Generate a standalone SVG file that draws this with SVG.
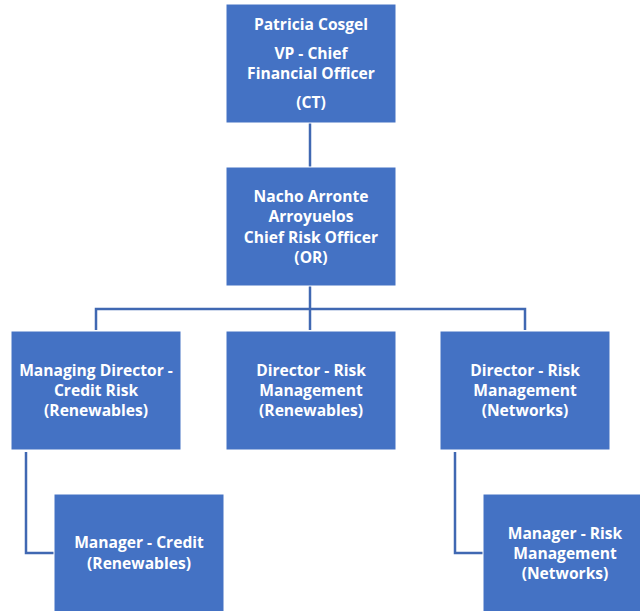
<svg xmlns="http://www.w3.org/2000/svg" width="640" height="611" viewBox="0 0 640 611">
  <style>
    .box { fill: #4472C4; stroke: #ffffff; stroke-width: 1; }
    .lbl { fill: #ffffff; font-family: "Open Sans", "Liberation Sans", sans-serif; font-weight: bold; font-size: 15.6px; text-anchor: middle; }
    .link { fill: none; stroke: #4068B2; stroke-width: 2.5; }
  </style>
  <rect width="640" height="611" fill="#ffffff"/>

  <!-- reporting lines -->
  <g id="connectors">
    <path class="link" d="M310,123 V167"/>
    <path class="link" d="M310,286 V330"/>
    <path class="link" d="M96,330 V309 H525 V330"/>
    <path class="link" d="M26,452 V553 H54"/>
    <path class="link" d="M455,452 V553 H483"/>
  </g>

  <g id="cfo">
    <rect class="box" x="226" y="4" width="170" height="119"/>
    <text class="lbl" x="311" y="30">Patricia Cosgel</text>
    <text class="lbl" x="311" y="59">VP - Chief</text>
    <text class="lbl" x="311" y="79">Financial Officer</text>
    <text class="lbl" x="311" y="108">(CT)</text>
  </g>

  <g id="cro">
    <rect class="box" x="226" y="167" width="170" height="119"/>
    <text class="lbl" x="311" y="202">Nacho Arronte</text>
    <text class="lbl" x="311" y="222">Arroyuelos</text>
    <text class="lbl" x="311" y="243">Chief Risk Officer</text>
    <text class="lbl" x="311" y="263">(OR)</text>
  </g>

  <g id="md-credit">
    <rect class="box" x="11" y="331" width="170" height="119"/>
    <text class="lbl" x="96" y="376">Managing Director -</text>
    <text class="lbl" x="96" y="396">Credit Risk</text>
    <text class="lbl" x="96" y="416">(Renewables)</text>
  </g>

  <g id="dir-renewables">
    <rect class="box" x="226" y="331" width="170" height="119"/>
    <text class="lbl" x="311" y="376">Director - Risk</text>
    <text class="lbl" x="311" y="396">Management</text>
    <text class="lbl" x="311" y="416">(Renewables)</text>
  </g>

  <g id="dir-networks">
    <rect class="box" x="440" y="331" width="170" height="119"/>
    <text class="lbl" x="525" y="376">Director - Risk</text>
    <text class="lbl" x="525" y="396">Management</text>
    <text class="lbl" x="525" y="416">(Networks)</text>
  </g>

  <g id="mgr-credit">
    <rect class="box" x="54" y="494" width="170" height="120"/>
    <text class="lbl" x="139" y="548">Manager - Credit</text>
    <text class="lbl" x="139" y="569">(Renewables)</text>
  </g>

  <g id="mgr-networks">
    <rect class="box" x="483" y="494" width="160" height="120"/>
    <text class="lbl" x="565" y="539">Manager - Risk</text>
    <text class="lbl" x="565" y="559">Management</text>
    <text class="lbl" x="565" y="579">(Networks)</text>
  </g>
</svg>
